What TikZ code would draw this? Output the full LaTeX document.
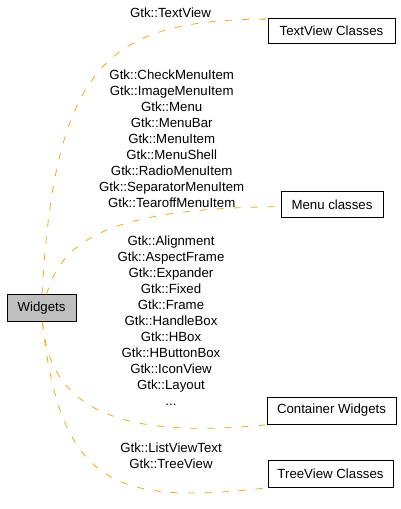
\documentclass[tikz,border=0pt]{standalone}
\usepackage{fontspec}
\setmainfont{Liberation Sans}
\definecolor{edgeorange}{RGB}{255,165,0}
\definecolor{boxgray}{RGB}{191,191,191}
\begin{document}
\begin{tikzpicture}[x=1bp,y=-1bp,
  box/.style={draw=black, line width=0.8bp, inner sep=0pt, minimum height=26bp,
    font=\fontsize{13.3}{16}\selectfont},
  lbl/.style={align=center, inner sep=0pt, font=\fontsize{13.3}{16}\selectfont},
  conn/.style={draw=edgeorange, line width=0.8bp, dash pattern=on 7bp off 10bp}]
\useasboundingbox (0,0) rectangle (400,509);

\node[box, fill=boxgray, minimum width=69bp, minimum height=27bp] (w) at (41.5,308.3) {Widgets};
\node[box, minimum width=127bp, minimum height=25bp] (tv) at (331.5,31) {TextView Classes};
\node[box, minimum width=102bp] (mc) at (332,204.7) {Menu classes};
\node[box, minimum width=129bp, minimum height=27bp] (cw) at (331.5,410.5) {Container Widgets};
\node[box, minimum width=125bp, minimum height=27bp] (tc) at (330.5,473.5) {TreeView Classes};

\draw[conn] ([xshift=0.5bp]w.north) .. controls (55,60) and (110,20) .. ([yshift=-1bp]tv.north west);
\draw[conn] ([xshift=5bp]w.north) .. controls (62,240) and (110,208) .. ([yshift=-2bp]mc.west);
\draw[conn] ([xshift=1bp]w.south) .. controls (50,410) and (120,440) .. ([xshift=4bp]cw.south west);
\draw[conn] ([xshift=1bp]w.south) .. controls (60,490) and (120,505) .. ([xshift=3bp]tc.south west);

\node[lbl] (l1) at (170.5,12.7) {Gtk::TextView};
\node[lbl] (l2) at (171.7,138.7) {Gtk::CheckMenuItem\\Gtk::ImageMenuItem\\Gtk::Menu\\Gtk::MenuBar\\Gtk::MenuItem\\Gtk::MenuShell\\Gtk::RadioMenuItem\\Gtk::SeparatorMenuItem\\Gtk::TearoffMenuItem};
\node[lbl] (l3) at (171,320.5) {Gtk::Alignment\\Gtk::AspectFrame\\Gtk::Expander\\Gtk::Fixed\\Gtk::Frame\\Gtk::HandleBox\\Gtk::HBox\\Gtk::HButtonBox\\Gtk::IconView\\Gtk::Layout\\...};
\node[lbl] (l4) at (171,455.5) {Gtk::ListViewText\\Gtk::TreeView};
\end{tikzpicture}
\end{document}
